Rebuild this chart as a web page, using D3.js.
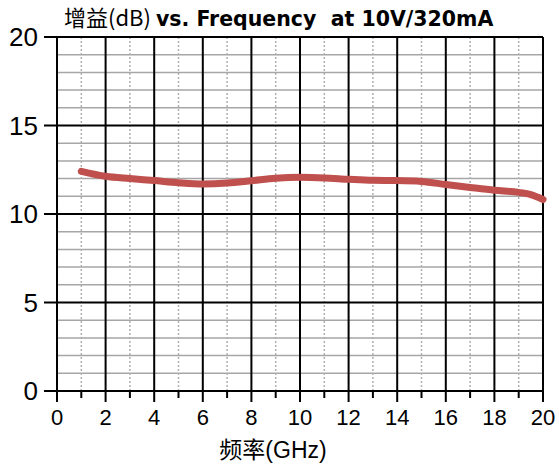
<!DOCTYPE html>
<html><head><meta charset="utf-8">
<script src="https://cdn.jsdelivr.net/npm/d3@7"></script>
<style>body{margin:0;background:#fff}</style>
</head><body>
<svg id="c" width="559" height="468"></svg>
<script>
const freq = [1,2,3,4,5,6,7,8,9,10,11,12,13,14,15,16,17,18,19,19.5,20];
const gain = [12.41,12.13,12.0,11.89,11.77,11.7,11.75,11.88,12.02,12.07,12.04,11.96,11.9,11.89,11.84,11.67,11.5,11.34,11.22,11.1,10.82];
const xTicks = [0,2,4,6,8,10,12,14,16,18,20];
const yTicks = [0,5,10,15,20];

const svg = d3.select("#c");
const x = d3.scaleLinear().domain([0,20]).range([57,543]);
const y = d3.scaleLinear().domain([0,20]).range([391,37]);

// minor horizontal gridlines
svg.append("g").selectAll("line").data(d3.range(1,20).filter(v=>v%5!==0)).join("line")
  .attr("x1",x(0)).attr("x2",x(20)).attr("y1",d=>y(d)).attr("y2",d=>y(d))
  .attr("stroke","#a6a6a6").attr("stroke-width",1.5);
// minor vertical dotted
svg.append("g").selectAll("line").data(d3.range(1,20,2)).join("line")
  .attr("x1",d=>x(d)).attr("x2",d=>x(d)).attr("y1",y(20)).attr("y2",y(0))
  .attr("stroke","#b0b0b0").attr("stroke-width",1.5).attr("stroke-dasharray","2,2");
// major vertical
svg.append("g").selectAll("line").data(xTicks).join("line")
  .attr("x1",d=>x(d)).attr("x2",d=>x(d)).attr("y1",y(20)).attr("y2",y(0)+11)
  .attr("stroke","#000").attr("stroke-width",2);
// minor x ticks
svg.append("g").selectAll("line").data(d3.range(1,20,2)).join("line")
  .attr("x1",d=>x(d)).attr("x2",d=>x(d)).attr("y1",y(0)).attr("y2",y(0)+7)
  .attr("stroke","#000").attr("stroke-width",2);
// major horizontal
svg.append("g").selectAll("line").data(yTicks).join("line")
  .attr("x1",x(0)-13).attr("x2",x(20)).attr("y1",d=>y(d)).attr("y2",d=>y(d))
  .attr("stroke","#000").attr("stroke-width",2);

// curve
const line = d3.line().x((d,i)=>x(freq[i])).y(d=>y(d)).curve(d3.curveMonotoneX);
svg.append("path").datum(gain).attr("d",line).attr("fill","none")
  .attr("stroke","#c0504d").attr("stroke-width",7).attr("stroke-linecap","round");

// y labels
svg.append("g").selectAll("text").data(yTicks).join("text")
  .attr("x",38).attr("y",d=>y(d)+9).attr("text-anchor","end")
  .attr("font-family","Liberation Sans, Arial").attr("font-size",26).text(d=>d);
// x labels
svg.append("g").selectAll("text").data(xTicks).join("text")
  .attr("x",d=>x(d)).attr("y",425).attr("text-anchor","middle")
  .attr("font-family","Liberation Sans, Arial").attr("font-size",22).text(d=>d);
// x title
svg.append("text").attr("x",273).attr("y",458).attr("text-anchor","middle")
  .attr("font-family","Liberation Sans, Noto Sans CJK SC").attr("font-size",23).text("频率(GHz)");
// title
const t = svg.append("text").attr("x",64).attr("y",26);
t.append("tspan").attr("font-family","Noto Sans CJK SC").attr("font-size",22).text("增益(dB) ");
t.append("tspan").attr("font-family","DejaVu Sans").attr("font-weight","bold").attr("font-size",20.5)
  .attr("style","white-space:pre").text("vs. Frequency  at 10V/320mA");
</script>
</body></html>
